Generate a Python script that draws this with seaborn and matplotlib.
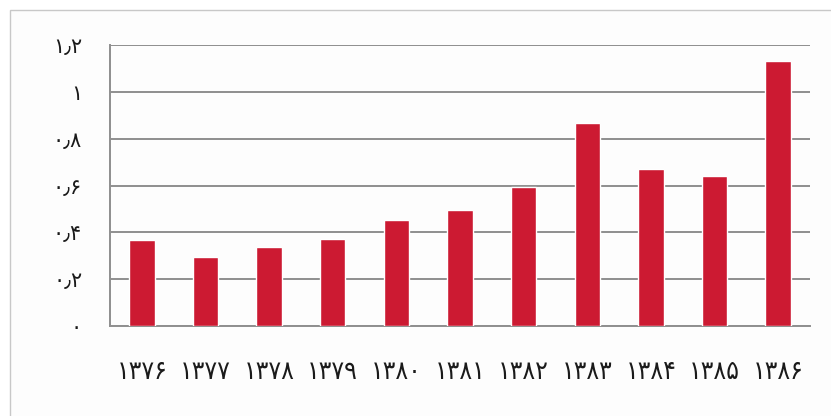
import matplotlib
matplotlib.use("Agg")
import matplotlib.pyplot as plt
import seaborn as sns
import pandas as pd
from matplotlib.patches import Rectangle

years = ["۱۳۷۶", "۱۳۷۷", "۱۳۷۸", "۱۳۷۹", "۱۳۸۰", "۱۳۸۱",
         "۱۳۸۲", "۱۳۸۳", "۱۳۸۴", "۱۳۸۵", "۱۳۸۶"]
values = [0.367, 0.294, 0.337, 0.371, 0.452, 0.495,
          0.593, 0.866, 0.670, 0.640, 1.130]
y_ticks = [0, 0.2, 0.4, 0.6, 0.8, 1.0, 1.2]
y_labels = ["۰", "۰٫۲", "۰٫۴", "۰٫۶", "۰٫۸", "۱", "۱٫۲"]

BAR = "#cc1a32"
GRID = "#8f8f8f"

df = pd.DataFrame({"year": years, "value": values})

sns.set_style("white")
plt.rcParams["font.family"] = ["DejaVu Sans"]

fig = plt.figure(figsize=(8.31, 4.16), dpi=100)
fig.patch.set_facecolor("white")
# light frame round the chart
frame = Rectangle((10 / 831, -0.1), 1.2, 1 - 10 / 416 + 0.1,
                  transform=fig.transFigure, fill=True,
                  facecolor="#fdfdfd", edgecolor="#c8c8c8",
                  linewidth=1.0, zorder=-5)
fig.add_artist(frame)

ax = fig.add_axes([110 / 831, 1 - 326 / 416, 700 / 831, 281 / 416])
ax.set_zorder(5)
ax.set_facecolor("none")

sns.barplot(data=df, x="year", y="value", order=years, color=BAR,
            width=0.4, saturation=1, ax=ax, zorder=3)

ax.set_ylim(0, 1.2)
ax.set_xlim(-0.5, len(years) - 0.5)
ax.set_yticks(y_ticks)
ax.set_yticklabels(y_labels, fontsize=15, color="#1a1a1a")
ax.yaxis.grid(True, color=GRID, linewidth=1.4)
ax.set_axisbelow(True)

ax.set_xticks(range(len(years)))
ax.set_xticklabels(years, fontsize=19, color="#1a1a1a",
                   fontstretch="condensed")
ax.set_xticks([i - 0.5 for i in range(len(years) + 1)], minor=True)
ax.tick_params(axis="x", which="major", length=0, pad=24)
ax.tick_params(axis="x", which="minor", length=7, width=1.4, color=GRID,
               direction="out")
ax.tick_params(axis="y", length=9, width=1.4, color=GRID, pad=11)
ax.set_xlabel("")
ax.set_ylabel("")

for side in ["top", "right"]:
    ax.spines[side].set_visible(False)
for side in ["left", "bottom"]:
    ax.spines[side].set_color(GRID)
    ax.spines[side].set_linewidth(1.4)

fig.savefig("out.png", dpi=100)
